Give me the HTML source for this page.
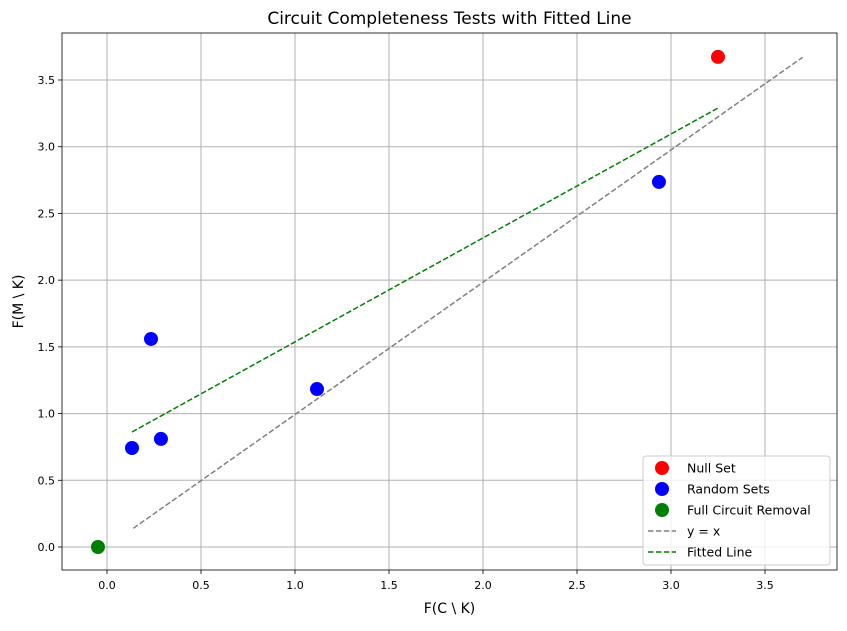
<!DOCTYPE html>
<html><head><meta charset="utf-8"><style>
body{margin:0;background:#fff;font-family:"Liberation Sans","DejaVu Sans",sans-serif}
svg text{font-family:"DejaVu Sans","Liberation Sans",sans-serif}
</style></head><body>
<svg id="chart" width="847" height="626" xmlns="http://www.w3.org/2000/svg"></svg>
<script>
const nullX=[3.25], nullY=[3.673];
const randX=[0.133,0.234,0.287,1.117,2.936], randY=[0.742,1.559,0.81,1.184,2.736];
const fullX=[-0.048], fullY=[0.0];
const idLineX=[0.14,3.7], idLineY=[0.14,3.67];
const fitX=[0.133,3.25], fitY=[0.862,3.29];
const xTicks=[0,0.5,1,1.5,2,2.5,3,3.5], xTickLabels=["0.0","0.5","1.0","1.5","2.0","2.5","3.0","3.5"];
const yTicks=[0,0.5,1,1.5,2,2.5,3,3.5], yTickLabels=["0.0","0.5","1.0","1.5","2.0","2.5","3.0","3.5"];

const L=62,R=837,T=33,B=570;
const X=v=>107+v*188, Y=v=>547-v*133.43;
const svg=document.getElementById('chart');
const NS='http://www.w3.org/2000/svg';
function mk(tag,attrs,parent){const e=document.createElementNS(NS,tag);for(const k in attrs)e.setAttribute(k,attrs[k]);(parent||svg).appendChild(e);return e;}

xTicks.forEach((t,i)=>{
  const g=mk('line',{x1:X(t),x2:X(t),y1:T,y2:B,stroke:'#b0b0b0','stroke-width':1});
  
  
  mk('line',{x1:X(t),x2:X(t),y1:B,y2:B+4,stroke:'#000','stroke-width':0.8});
  const tx=mk('text',{x:X(t),y:B+19,'text-anchor':'middle','font-size':11});
  tx.textContent=xTickLabels[i];
  
  
});
yTicks.forEach((t,i)=>{
  const g=mk('line',{x1:L,x2:R,y1:Y(t),y2:Y(t),stroke:'#b0b0b0','stroke-width':1});
  
  
  mk('line',{x1:L-4,x2:L,y1:Y(t),y2:Y(t),stroke:'#000','stroke-width':0.8});
  const tx=mk('text',{x:L-7,y:Y(t)+4,'text-anchor':'end','font-size':11});
  tx.textContent=yTickLabels[i];
  
  
});

const id=mk('line',{x1:X(idLineX[0]),y1:Y(idLineY[0]),x2:X(idLineX[1]),y2:Y(idLineY[1]),stroke:'gray','stroke-width':1.5,'stroke-dasharray':'5.5,2.4'});


const fit=mk('line',{x1:X(fitX[0]),y1:Y(fitY[0]),x2:X(fitX[1]),y2:Y(fitY[1]),stroke:'green','stroke-width':1.5,'stroke-dasharray':'5.5,2.4'});



function pts(xs,ys,color,name){xs.forEach((x,i)=>{const c=mk('circle',{cx:X(x),cy:Y(ys[i]),r:7,fill:color});
  
  });}
pts(nullX,nullY,'red','null-set-point');
pts(randX,randY,'blue','random-set-point');
pts(fullX,fullY,'green','full-removal-point');

mk('rect',{x:L,y:T,width:R-L,height:B-T,fill:'none',stroke:'#000','stroke-width':0.8});

const title=mk('text',{x:(L+R)/2,y:24,'text-anchor':'middle','font-size':17});
title.textContent='Circuit Completeness Tests with Fitted Line';


const xl=mk('text',{x:(L+R)/2,y:613,'text-anchor':'middle','font-size':14});
xl.textContent='F(C \\ K)';


const yl=mk('text',{x:0,y:0,'text-anchor':'middle','font-size':14,transform:`translate(23,${(T+B)/2}) rotate(-90)`});
yl.textContent='F(M \\ K)';



const lg=mk('g',{});


mk('rect',{x:643,y:456,width:187,height:109,rx:3,fill:'#fff','fill-opacity':0.8,stroke:'#ccc'},lg);
const entries=[['Null Set','red','pt'],['Random Sets','blue','pt'],['Full Circuit Removal','green','pt'],['y = x','gray','ln'],['Fitted Line','green','ln']];
entries.forEach((e,i)=>{
  const y=468+i*21;
  const g=mk('g',{},lg);
  
  
  if(e[2]==='pt')mk('circle',{cx:662,cy:y,r:7,fill:e[1]},g);
  else mk('line',{x1:648,x2:676,y1:y,y2:y,stroke:e[1],'stroke-width':1.5,'stroke-dasharray':'5.5,2.4'},g);
  const t=mk('text',{x:687,y:y+4.5,'font-size':12.5},g);t.textContent=e[0];
});
</script>
</body></html>
